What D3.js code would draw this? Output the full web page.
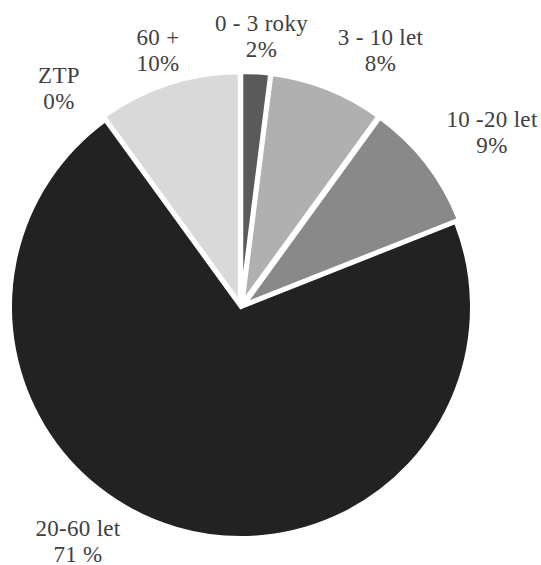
<!DOCTYPE html>
<html>
<head>
<meta charset="utf-8">
<script src="https://cdn.jsdelivr.net/npm/d3@7"></script>
<style>
  html, body { margin: 0; padding: 0; background: #ffffff; }
  svg { display: block; }
</style>
</head>
<body>
<svg id="chart" width="541" height="565"></svg>
<script>
// Age groups and their shares (percent)
const categories = ["0 - 3 roky", "3 - 10 let", "10 -20 let", "20-60 let", "ZTP", "60 +"];
const shares = [2, 8, 9, 71, 0, 10];
const shareLabels = ["2%", "8%", "9%", "71 %", "0%", "10%"];
const sliceColors = ["#5a5a5a", "#b0b0b0", "#898989", "#222222", "#7a7a7a", "#d9d9d9"];

// Layout
const width = 541, height = 565;
const cx = 241, cy = 307;
const radius = 231;
const explode = [4, 4, 4, 0, 4, 4];
// label anchor: centre x, baseline of first line
const labelAnchors = [[261.5, 31], [380.5, 45], [492, 127], [78, 536], [59, 83], [158, 45]];
const lineGap = 26;

const svg = d3.select("#chart");
const g = svg.append("g").attr("transform", `translate(${cx},${cy})`);

const pie = d3.pie().sort(null).value(d => d.value);
const arc = d3.arc().innerRadius(0).outerRadius(radius);

const data = categories.map((c, i) => ({ name: c, value: shares[i], label: shareLabels[i], color: sliceColors[i], idx: i }));
const arcs = pie(data);

g.selectAll("path.slice")
  .data(arcs.filter(a => a.data.value > 0))
  .join("path")
  .attr("class", "slice")
  .attr("d", arc)
  .attr("fill", d => d.data.color)
  .attr("stroke", "#ffffff")
  .attr("stroke-width", 4)
  .attr("stroke-linejoin", "miter")
  .attr("transform", d => {
    const mid = (d.startAngle + d.endAngle) / 2;
    const e = explode[d.data.idx];
    return `translate(${Math.sin(mid) * e},${-Math.cos(mid) * e})`;
  });

const labels = svg.selectAll("text.lbl")
  .data(data)
  .join("text")
  .attr("class", "lbl")
  .attr("text-anchor", "middle")
  .style("font-family", "Liberation Serif")
  .style("font-size", "23px")
  .style("letter-spacing", "0.3px")
  .attr("fill", "#404040");

labels.append("tspan")
  .attr("x", d => labelAnchors[d.idx][0])
  .attr("y", d => labelAnchors[d.idx][1])
  .text(d => d.name);
labels.append("tspan")
  .attr("x", d => labelAnchors[d.idx][0])
  .attr("y", d => labelAnchors[d.idx][1] + lineGap)
  .text(d => d.label);
</script>
</body>
</html>
